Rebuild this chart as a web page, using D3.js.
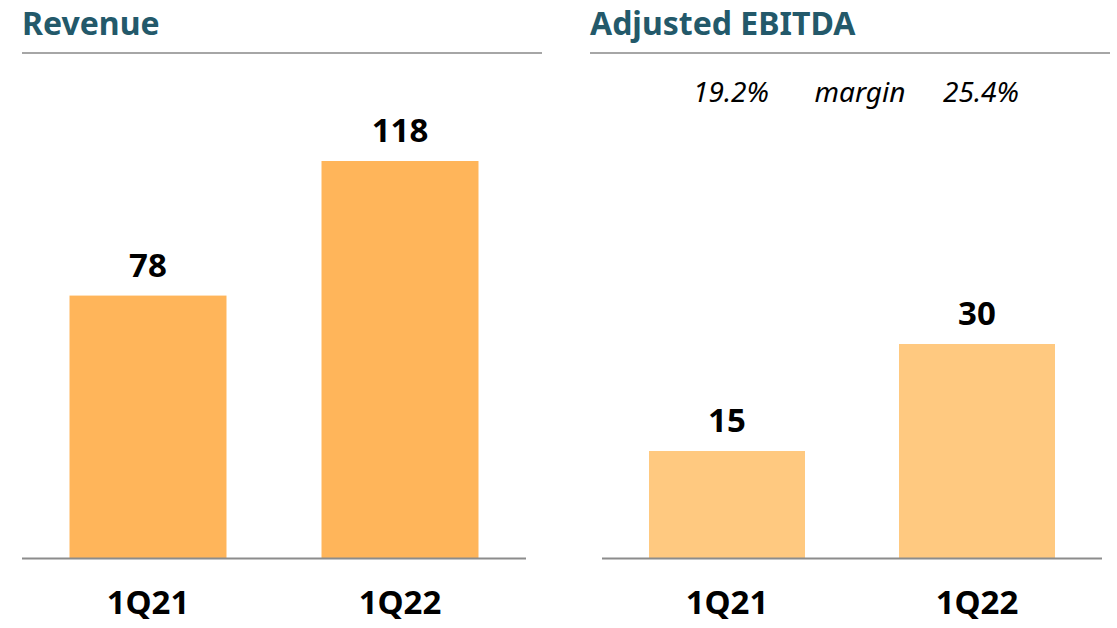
<!DOCTYPE html>
<meta charset="utf-8">
<html>
<style>
body { margin: 0; background: #fff; }
.title { font: bold 32px "Noto Sans", sans-serif; fill: #23596a; }
.val, .cat { font: bold 33px "Noto Sans", sans-serif; fill: #000; text-anchor: middle; }
.margin { font: italic 28px "Noto Sans", sans-serif; fill: #000; text-anchor: middle; }
</style>
<svg width="1117" height="628"></svg>
<script src="https://d3js.org/d3.v7.min.js"></script>
<script>
var quarters = ["1Q21", "1Q22"];
var revenue = [78, 118];
var ebitda = [15, 30];
var margins = ["19.2%", "25.4%"];

var svg = d3.select("svg");
var base = 558;

function panel(opts) {
  var g = svg.append("g");

  var x = d3.scaleBand()
      .domain(quarters)
      .range(opts.range)
      .paddingInner(opts.pad)
      .paddingOuter(opts.pad / 2);

  var y = d3.scaleLinear()
      .domain([0, opts.top])
      .range([base, opts.topY]);

  g.append("text")
      .attr("class", "title")
      .attr("x", opts.titleX)
      .attr("y", 35)
      .text(opts.title);

  g.append("line")
      .attr("x1", opts.titleX).attr("x2", opts.lineEnd)
      .attr("y1", 53).attr("y2", 53)
      .attr("stroke", "#a6a6a6")
      .attr("stroke-width", 2);

  g.selectAll("rect")
    .data(opts.values)
    .join("rect")
      .attr("x", (d, i) => x(quarters[i]))
      .attr("width", x.bandwidth())
      .attr("y", d => y(d))
      .attr("height", d => base - y(d))
      .attr("fill", opts.color);

  g.append("line")
      .attr("x1", opts.range[0]).attr("x2", opts.range[1])
      .attr("y1", base + 0.5).attr("y2", base + 0.5)
      .attr("stroke", "#8c8c8c")
      .attr("stroke-width", 2);

  g.selectAll(".val")
    .data(opts.values)
    .join("text")
      .attr("class", "val")
      .attr("x", (d, i) => x(quarters[i]) + x.bandwidth() / 2)
      .attr("y", d => y(d) - 19)
      .text(d => d);

  g.selectAll(".cat")
    .data(quarters)
    .join("text")
      .attr("class", "cat")
      .attr("x", d => x(d) + x.bandwidth() / 2)
      .attr("y", 614)
      .text(d => d);

  return x;
}

panel({
  title: "Revenue", titleX: 22, lineEnd: 542,
  range: [22, 526], pad: 0.377,
  values: revenue, top: 118, topY: 161,
  color: "#ffb55a"
});

var x2 = panel({
  title: "Adjusted EBITDA", titleX: 590, lineEnd: 1110,
  range: [602, 1102], pad: 0.376,
  values: ebitda, top: 30, topY: 344,
  color: "#ffc980"
});

// margin row above the EBITDA bars
svg.selectAll(".margin")
  .data(margins)
  .join("text")
    .attr("class", "margin")
    .attr("x", (d, i) => x2(quarters[i]) + x2.bandwidth() / 2 + 4)
    .attr("y", 102)
    .text(d => d);

svg.append("text")
    .attr("class", "margin")
    .attr("x", 860)
    .attr("y", 102)
    .text("margin");
</script>
</html>
